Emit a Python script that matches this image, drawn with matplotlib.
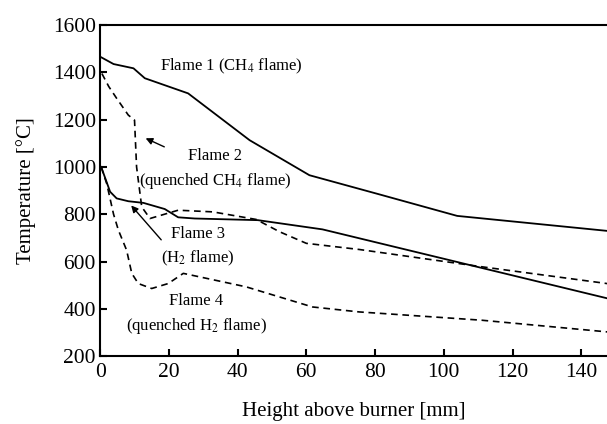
import matplotlib.pyplot as plt

plt.rcParams['font.family'] = ['Liberation Serif', 'DejaVu Serif']
plt.rcParams['mathtext.fontset'] = 'stix'

# Flame 1 (CH4 flame), solid
x1 = [0, 3.9, 9.7, 13, 25.6, 43.5, 60.9, 81, 103.9, 148]
t1 = [1466, 1435, 1417, 1375, 1311, 1113, 965, 885, 793, 729]

# Flame 2 (quenched CH4 flame), dashed
x2 = [0.5, 2.5, 4.8, 8.2, 10, 10.6, 12.1, 14.5, 22.7, 32.8, 45.4, 52.2, 60, 75.4, 111, 148]
t2 = [1395, 1340, 1290, 1219, 1198, 1000, 831, 782, 817, 810, 778, 726, 677, 651, 578, 506]

# Flame 3 (H2 flame), solid
x3 = [0.3, 2.9, 4.8, 8.2, 12.6, 18.8, 22.7, 27.5, 45.9, 64.7, 148]
t3 = [1000, 895, 867, 855, 848, 822, 787, 782, 775, 736, 443]

# Flame 4 (quenched H2 flame), dashed
x4 = [0.3, 1.9, 3.9, 5.3, 7.7, 9.2, 11.1, 15, 19.8, 24.2, 42.5, 61.8, 75.4, 111, 148]
t4 = [1000, 930, 800, 733, 648, 550, 507, 486, 507, 550, 493, 408, 387, 352, 302]

xticks = [0, 20, 40, 60, 80, 100, 120, 140]
yticks = [200, 400, 600, 800, 1000, 1200, 1400, 1600]

fig = plt.figure(figsize=(6.07, 4.24), dpi=100)
ax = fig.add_axes([0.165, 0.160, 0.835, 0.781])

dash = (0, (4, 2.8))
ax.plot(x1, t1, color='black', lw=1.3)
ax.plot(x2, t2, color='black', lw=1.2, linestyle=dash)
ax.plot(x3, t3, color='black', lw=1.3)
ax.plot(x4, t4, color='black', lw=1.2, linestyle=dash)

ax.set_xlim(0, 147.5)
ax.set_ylim(200, 1600)
ax.set_xticks(xticks)
ax.set_yticks(yticks)
ax.spines['right'].set_visible(False)
for s in ['left', 'bottom', 'top']:
    ax.spines[s].set_linewidth(1.5)
ax.tick_params(direction='in', length=5, width=1.5, labelsize=15.5,
               top=False, right=False)
ax.tick_params(axis='x', pad=5)
ax.tick_params(axis='y', pad=3)

ax.set_xlabel('Height above burner [mm]', fontsize=15, labelpad=14)
ax.set_ylabel('Temperature [°C]', fontsize=15, labelpad=12)

fs = 12
ax.text(38.2, 1424, 'Flame 1 (CH$_4$ flame)', fontsize=fs, ha='center', va='center')
ax.text(33.5, 990, 'Flame 2\n(quenched CH$_4$ flame)', fontsize=fs, ha='center',
        va='center', linespacing=1.5)
ax.text(28.5, 660, 'Flame 3\n(H$_2$ flame)', fontsize=fs, ha='center',
        va='center', linespacing=1.5)
ax.text(28, 378, 'Flame 4\n(quenched H$_2$ flame)', fontsize=fs, ha='center',
        va='center', linespacing=1.5)

arrow = dict(arrowstyle='-|>', color='black', lw=1.0, mutation_scale=10)
ax.annotate('', xy=(12.5, 1126), xytext=(19.4, 1080), arrowprops=arrow)
ax.annotate('', xy=(8.5, 846), xytext=(18.3, 683), arrowprops=arrow)

fig.savefig('out.png', dpi=100)
